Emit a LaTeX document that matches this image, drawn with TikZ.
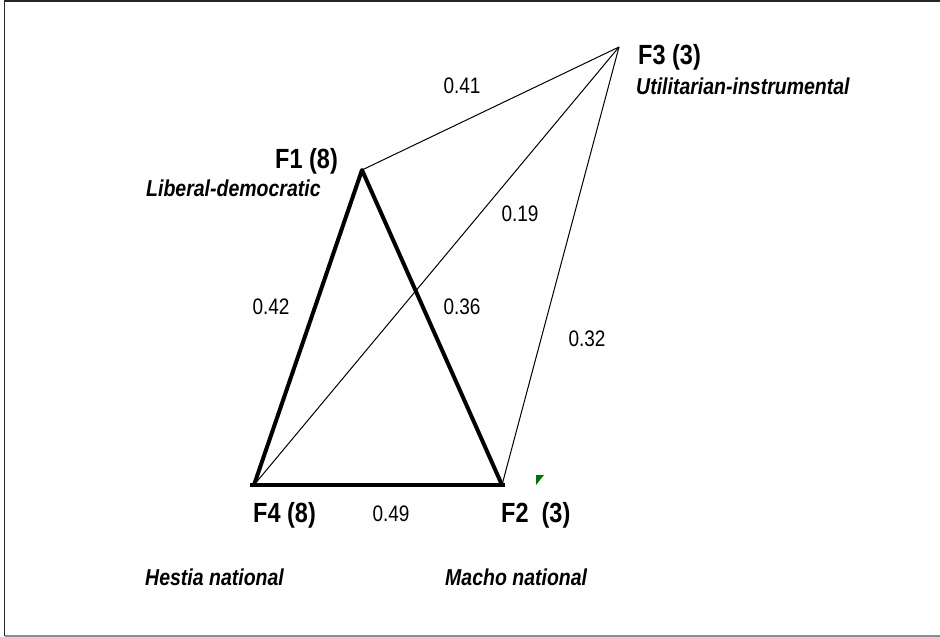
\documentclass[tikz,border=0pt]{standalone}
\usepackage{fontspec}
\setmainfont{Liberation Sans}
\newcommand{\talltext}[1]{\scalebox{1}[1.18]{#1}}
\begin{document}
\begin{tikzpicture}[x=1pt,y=-1pt,
  fac/.style={font=\fontsize{23.5}{26}\selectfont\bfseries, anchor=base west, inner sep=0pt},
  desc/.style={font=\fontsize{19.5}{22}\selectfont\bfseries\itshape, anchor=base west, inner sep=0pt},
  num/.style={font=\fontsize{19}{22}\selectfont, inner sep=0pt},
  thick edge/.style={line width=4pt, line join=round},
  thin edge/.style={line width=1pt}]
\useasboundingbox (0,0) rectangle (940,637);
\draw[line width=1.5pt, black!85] (941,1) -- (4.5,1) -- (4.5,636);
\draw[line width=1.5pt, black!45] (4.5,636) -- (941,636);
\coordinate (F1) at (362,170);
\coordinate (F2) at (502,485);
\coordinate (F3) at (619,47);
\coordinate (F4) at (254,485);
% thin edges
\draw[thin edge] (F1) -- (F3);
\draw[thin edge] (F4) -- (F3);
\draw[thin edge] (F2) -- (F3);
% thick edges
\draw[thick edge] (F4) -- (F1) -- (F2);
\draw[line width=4pt] ([xshift=-4pt]F4) -- ([xshift=3pt]F2);
% green mark
\fill[green!45!black] (536,475) -- (544,475) -- (536,485) -- cycle;
% factor labels
\node[fac] (l3) at (638,64) {\talltext{F3 (3)}};
\node[desc] (d3) at (636,94) {\talltext{Utilitarian-instrumental}};
\node[fac] (l1) at (275,168) {\talltext{F1 (8)}};
\node[desc] (d1) at (146,196) {\talltext{Liberal-democratic}};
\node[fac] (l4) at (253,522) {\talltext{F4 (8)}};
\node[fac] (l2) at (501,522) {\talltext{F2\ \ (3)}};
\node[desc] (d4) at (145,585) {\talltext{Hestia national}};
\node[desc] (d2) at (445,585) {\talltext{Macho national}};
% edge values
\node[num] (v41) at (462,86) {\talltext{0.41}};
\node[num] (v19) at (520,214) {\talltext{0.19}};
\node[num] (v42) at (271,307) {\talltext{0.42}};
\node[num] (v36) at (462,307) {\talltext{0.36}};
\node[num] (v32) at (587,339) {\talltext{0.32}};
\node[num] (v49) at (391,514) {\talltext{0.49}};
\end{tikzpicture}
\end{document}
